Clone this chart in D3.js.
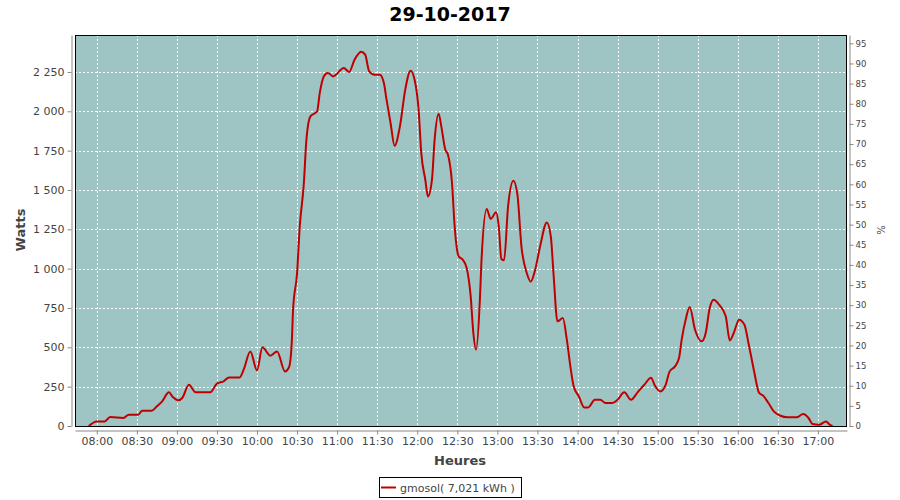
<!DOCTYPE html>
<html><head><meta charset="utf-8">
<script src="https://d3js.org/d3.v7.min.js"></script>
<style>
body{margin:0;background:#fff;}
text{font-family:"DejaVu Sans",sans-serif;}
</style>
</head><body>
<svg id="chart" width="900" height="500"></svg>
<script>
const chartTitle = "29-10-2017";
const seriesName = "gmosol( 7,021 kWh )";
const xTitle = "Heures";
const yTitle = "Watts";
const y2Title = "%";

const times = ["07:54","08:00","08:06","08:10","08:20","08:24","08:31","08:34","08:41","08:45",
"08:49","08:54","08:57","09:01","09:04","09:09","09:14","09:25","09:30","09:35",
"09:39","09:47","09:50","09:55","10:00","10:04","10:10","10:15","10:21","10:24",
"10:26","10:27","10:30","10:32","10:35","10:37","10:40","10:45","10:47","10:50",
"10:53","10:57","11:05","11:09","11:13","11:18","11:21","11:24","11:28","11:32",
"11:35","11:37","11:40","11:43","11:47","11:51","11:55","11:58","12:01","12:03",
"12:06","12:08","12:11","12:13","12:16","12:18","12:21","12:23","12:26","12:28",
"12:31","12:34","12:37","12:40","12:42","12:44","12:47","12:48","12:52","12:55",
"12:59","13:01","13:03","13:05","13:08","13:12","13:15","13:18","13:22","13:25",
"13:28","13:32","13:37","13:40","13:42","13:45","13:49","13:52","13:55","13:57",
"14:01","14:05","14:08","14:13","14:17","14:21","14:26","14:30","14:35","14:40",
"14:45","14:50","14:55","14:58","15:02","15:06","15:09","15:13","15:16","15:18",
"15:21","15:24","15:28","15:33","15:36","15:39","15:42","15:46","15:51","15:54",
"15:57","16:01","16:05","16:08","16:12","16:16","16:19","16:23","16:27","16:32",
"16:37","16:44","16:49","16:53","16:56","17:01","17:06","17:09","17:11"];

const watts = [0,29,29,57,51,72,72,97,97,125,
156,214,184,163,178,262,214,214,269,284,
309,309,358,474,353,500,447,474,347,375,
528,739,972,1269,1534,1820,1968,2000,2117,2222,
2244,2222,2275,2250,2328,2379,2360,2254,2233,2233,
2180,2074,1926,1781,1904,2138,2258,2201,2010,1735,
1566,1459,1566,1820,1985,1904,1756,1724,1545,1269,
1078,1057,1004,824,591,485,824,1036,1379,1316,
1358,1269,1061,1053,1396,1559,1470,1142,972,917,
983,1142,1294,1205,972,665,686,549,358,256,
188,118,118,167,167,146,146,167,214,167,
214,262,307,256,220,262,347,379,432,549,
676,756,612,538,591,750,803,771,697,544,
591,676,644,528,358,210,193,146,93,65,
55,55,76,51,13,8,29,8,0];

const xTickLabels = ["08:00","08:30","09:00","09:30","10:00","10:30","11:00","11:30","12:00",
"12:30","13:00","13:30","14:00","14:30","15:00","15:30","16:00","16:30","17:00"];
const wattTicks = [0,250,500,750,1000,1250,1500,1750,2000,2250];
const pctTicks = [0,5,10,15,20,25,30,35,40,45,50,55,60,65,70,75,80,85,90,95];

const toMin = s => { const p = s.split(":"); return +p[0]*60 + +p[1]; };
const data = times.map((t,i)=>({m:toMin(t), w:watts[i]}));

const svg = d3.select("#chart");
const L = 75, R = 847, T = 35, B = 426;
const x = d3.scaleLinear().domain([463.7, 1041.8]).range([L, R]);
const y = d3.scaleLinear().domain([0, 2485]).range([B, T]);
const y2 = d3.scaleLinear().domain([0, 97.07]).range([B, T]);

const loc = d3.formatLocale({decimal:",", thousands:" ", grouping:[3], currency:["",""]});
const fmt = loc.format(",d");

// plot background
svg.append("rect").attr("x",L).attr("y",T).attr("width",R-L).attr("height",B-T).attr("fill","#9fc4c4");

// grid
const grid = svg.append("g").attr("stroke","#fff").attr("stroke-width",1).attr("stroke-dasharray","2,2");
xTickLabels.forEach(t=>{
  const xx = Math.round(x(toMin(t)))+0.5;
  grid.append("line").attr("x1",xx).attr("x2",xx).attr("y1",T).attr("y2",B);
});
wattTicks.forEach(v=>{
  if (v===0) return;
  const yy = Math.round(y(v))+0.5;
  grid.append("line").attr("x1",L).attr("x2",R).attr("y1",yy).attr("y2",yy);
});

// line
const line = d3.line().curve(d3.curveMonotoneX).x(d=>x(d.m)).y(d=>y(d.w));
svg.append("path").datum(data).attr("d",line).attr("fill","none")
  .attr("stroke","#c00000").attr("stroke-width",2).attr("stroke-linejoin","round");

// border
svg.append("rect").attr("x",L+0.5).attr("y",T+0.5).attr("width",R-L-1).attr("height",B-T).attr("fill","none").attr("stroke","#000").attr("stroke-width",1);

function styleAxis(g, fs){
  g.select(".domain").attr("stroke","#888");
  g.selectAll(".tick line").attr("stroke","#888");
  g.selectAll(".tick text").attr("fill","#444").attr("font-size",fs).attr("font-family","DejaVu Sans, sans-serif");
}

// left axis
const gl = svg.append("g").attr("transform","translate(71.5,0)")
  .call(d3.axisLeft(y).tickValues(wattTicks).tickFormat(fmt).tickSize(4).tickSizeOuter(0).tickPadding(3));
styleAxis(gl, 11);

// right axis
const gr = svg.append("g").attr("transform","translate(849.5,0)")
  .call(d3.axisRight(y2).tickValues(pctTicks).tickSize(4).tickSizeOuter(0).tickPadding(2));
styleAxis(gr, 8.5);

// bottom axis
const gb = svg.append("g").attr("transform","translate(0,430.5)")
  .call(d3.axisBottom(x).tickValues(xTickLabels.map(toMin)).tickFormat((d,i)=>xTickLabels[i]).tickSize(4).tickSizeOuter(0).tickPadding(3));
styleAxis(gb, 11);

// titles
svg.append("text").attr("x",450).attr("y",21).attr("text-anchor","middle")
  .attr("font-size",19).attr("font-weight","bold").attr("fill","#000").text(chartTitle);
svg.append("text").attr("transform","translate(25,230) rotate(-90)").attr("text-anchor","middle")
  .attr("font-size",13).attr("font-weight","bold").attr("fill","#444").text(yTitle);
svg.append("text").attr("x",460).attr("y",465).attr("text-anchor","middle")
  .attr("font-size",13).attr("font-weight","bold").attr("fill","#444").text(xTitle);
svg.append("text").attr("transform","translate(877,230) rotate(90)").attr("text-anchor","middle")
  .attr("font-size",10).attr("fill","#444").text(y2Title);

// legend
svg.append("rect").attr("x",379.5).attr("y",477.5).attr("width",142).attr("height",20)
  .attr("fill","#fff").attr("stroke","#000");
svg.append("line").attr("x1",381).attr("x2",396).attr("y1",487.5).attr("y2",487.5)
  .attr("stroke","#c00000").attr("stroke-width",2);
svg.append("text").attr("x",400).attr("y",491.5).attr("font-size",11).attr("fill","#444").text(seriesName);
</script>
</body></html>
